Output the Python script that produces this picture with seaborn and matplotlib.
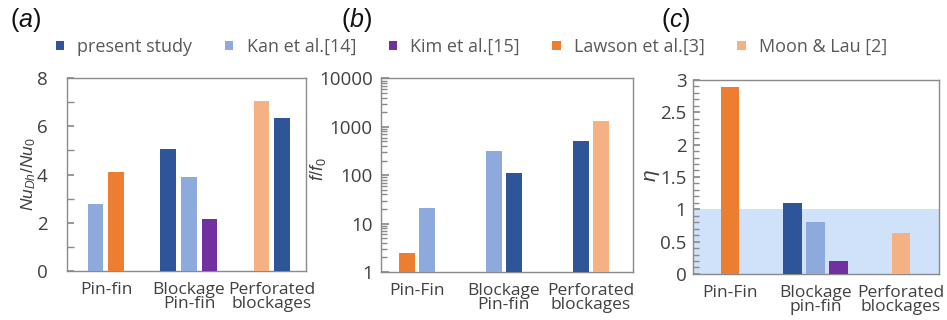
import numpy as np
import pandas as pd
import matplotlib
matplotlib.use("Agg")
import matplotlib.pyplot as plt
import seaborn as sns
from matplotlib.patches import Patch
from matplotlib.ticker import MultipleLocator, FixedLocator, FuncFormatter, LogLocator, NullFormatter

# ---------------- data ----------------
series_names = ["present study", "Kan et al.[14]", "Kim et al.[15]", "Lawson et al.[3]", "Moon & Lau [2]"]
series_colors = ["#2E5597", "#8EA9DB", "#7030A0", "#ED7D31", "#F4B183"]

nu_categories = ["Pin-fin", "Blockage\nPin-fin", "Perforated\nblockages"]
nu_category = ["Pin-fin", "Pin-fin", "Blockage\nPin-fin", "Blockage\nPin-fin", "Blockage\nPin-fin",
               "Perforated\nblockages", "Perforated\nblockages"]
nu_series = ["Kan et al.[14]", "Lawson et al.[3]", "present study", "Kan et al.[14]", "Kim et al.[15]",
             "Moon & Lau [2]", "present study"]
nu_values = [2.8, 4.1, 5.05, 3.9, 2.15, 7.05, 6.35]

f_categories = ["Pin-Fin", "Blockage\nPin-fin", "Perforated\nblockages"]
f_category = ["Pin-Fin", "Pin-Fin", "Blockage\nPin-fin", "Blockage\nPin-fin",
              "Perforated\nblockages", "Perforated\nblockages"]
f_series = ["Lawson et al.[3]", "Kan et al.[14]", "Kan et al.[14]", "present study",
            "present study", "Moon & Lau [2]"]
f_values = [2.46, 21, 323, 111, 500, 1320]

eta_categories = ["Pin-Fin", "Blockage\npin-fin", "Perforated\nblockages"]
eta_category = ["Pin-Fin", "Blockage\npin-fin", "Blockage\npin-fin", "Blockage\npin-fin",
                "Perforated\nblockages"]
eta_series = ["Lawson et al.[3]", "present study", "Kan et al.[14]", "Kim et al.[15]", "Moon & Lau [2]"]
eta_values = [2.89, 1.10, 0.80, 0.20, 0.64]

# ---------------- style ----------------
sns.set_theme(style="white")
plt.rcParams["font.family"] = ["Open Sans", "DejaVu Sans"]
plt.rcParams["mathtext.fontset"] = "custom"
plt.rcParams["mathtext.it"] = "Liberation Sans:italic"
plt.rcParams["mathtext.rm"] = "Liberation Sans"
TICK_C = "#404040"
SPINE_C = "#8a8a8a"
palette = dict(zip(series_names, series_colors))

fig = plt.figure(figsize=(9.47, 3.2), dpi=100)
ax_a = fig.add_axes([0.0707, 0.153, 0.2524, 0.603])
ax_b = fig.add_axes([0.4023, 0.150, 0.2658, 0.605])
ax_c = fig.add_axes([0.7321, 0.144, 0.2591, 0.606])


def make_frame(cats, cat_col, ser_col, vals, step):
    df = pd.DataFrame({"category": cat_col, "series": ser_col, "value": vals})
    idx = df["category"].map({c: i for i, c in enumerate(cats)})
    rank = df.groupby("category", sort=False).cumcount()
    n = df.groupby("category", sort=False)["value"].transform("size")
    df["pos"] = idx + (rank - (n - 1) / 2) * step
    return df


def draw(ax, cats, df, width, xlim):
    sns.barplot(data=df, x="pos", y="value", hue="series", palette=palette,
                native_scale=True, dodge=False, width=width, legend=False,
                saturation=1, linewidth=0, ax=ax, zorder=3)
    ax.set_xlim(*xlim)
    ax.xaxis.set_major_locator(FixedLocator(range(len(cats))))
    ax.set_xticklabels(cats, fontsize=12.5, color=TICK_C, linespacing=0.85)
    ax.tick_params(axis="x", length=0, pad=8)
    ax.set_xlabel("")
    for s in ax.spines.values():
        s.set_color(SPINE_C)
        s.set_linewidth(1.0)


# (a)
df_a = make_frame(nu_categories, nu_category, nu_series, nu_values, 0.249)
draw(ax_a, nu_categories, df_a, 0.189 / 0.249, (-0.47, 2.41))
ax_a.set_ylim(0, 8)
ax_a.yaxis.set_major_locator(MultipleLocator(2))
ax_a.yaxis.set_minor_locator(MultipleLocator(1))
ax_a.tick_params(axis="y", which="both", direction="in", left=True, color=SPINE_C,
                 labelsize=13.5, labelcolor=TICK_C, pad=14)
ax_a.tick_params(axis="y", which="major", length=5)
ax_a.tick_params(axis="y", which="minor", length=5)
ax_a.set_ylabel(r"$Nu_{Dh}/Nu_{0}$", fontsize=12.5, color=TICK_C)
ax_a.yaxis.set_label_coords(-0.12, 0.50)

# (b)
df_b = make_frame(f_categories, f_category, f_series, f_values, 0.232)
ax_b.set_yscale("log")
draw(ax_b, f_categories, df_b, 0.183 / 0.232, (-0.41, 2.48))
ax_b.set_ylim(1, 10000)
ax_b.yaxis.set_major_locator(LogLocator(base=10, numticks=10))
ax_b.yaxis.set_minor_locator(LogLocator(base=10, subs=np.arange(2, 10), numticks=20))
ax_b.yaxis.set_major_formatter(FuncFormatter(lambda v, p: f"{v:.0f}"))
ax_b.yaxis.set_minor_formatter(NullFormatter())
ax_b.tick_params(axis="y", which="both", direction="in", left=True, color=SPINE_C,
                 labelsize=13.5, labelcolor=TICK_C, pad=6)
ax_b.tick_params(axis="y", which="major", length=6)
ax_b.tick_params(axis="y", which="minor", length=4)
ax_b.set_ylabel(r"$f/f_{0}$", fontsize=13, color=TICK_C)
ax_b.yaxis.set_label_coords(-0.212, 0.53)

# (c)
df_c = make_frame(eta_categories, eta_category, eta_series, eta_values, 0.27)
ax_c.axhspan(0, 1, color="#CFE2F9", zorder=0, lw=0)
draw(ax_c, eta_categories, df_c, 0.215 / 0.27, (-0.43, 2.44))
ax_c.set_ylim(0, 3)
ax_c.yaxis.set_major_locator(MultipleLocator(0.5))
ax_c.yaxis.set_minor_locator(MultipleLocator(0.1))
ax_c.yaxis.set_major_formatter(FuncFormatter(lambda v, p: f"{v:g}"))
ax_c.tick_params(axis="y", which="both", direction="in", left=True, color=SPINE_C,
                 labelsize=13.5, labelcolor=TICK_C, pad=5)
ax_c.tick_params(axis="y", which="major", length=5)
ax_c.tick_params(axis="y", which="minor", length=4)
ax_c.set_ylabel(r"$\eta$", fontsize=15, color=TICK_C)
ax_c.yaxis.set_label_coords(-0.127, 0.505)

# panel labels
for xpix, letter in [(10, "a"), (341, "b"), (661, "c")]:
    fig.text(xpix / 947, 1 - 20 / 320, "(" + f"${letter}$" + ")", fontsize=18,
             family="Liberation Sans", color="#111111", va="center", ha="left")

# legend
handles = [Patch(facecolor=c, edgecolor="none") for c in series_colors]
leg = fig.legend(handles, series_names, loc="center", bbox_to_anchor=(0.498, 1 - 47 / 320),
                 ncol=5, frameon=False, fontsize=13, handlelength=0.45, handleheight=0.45,
                 handletextpad=0.75, columnspacing=1.8, borderaxespad=0)
for t in leg.get_texts():
    t.set_color("#595959")

fig.savefig("out.png", dpi=100)
